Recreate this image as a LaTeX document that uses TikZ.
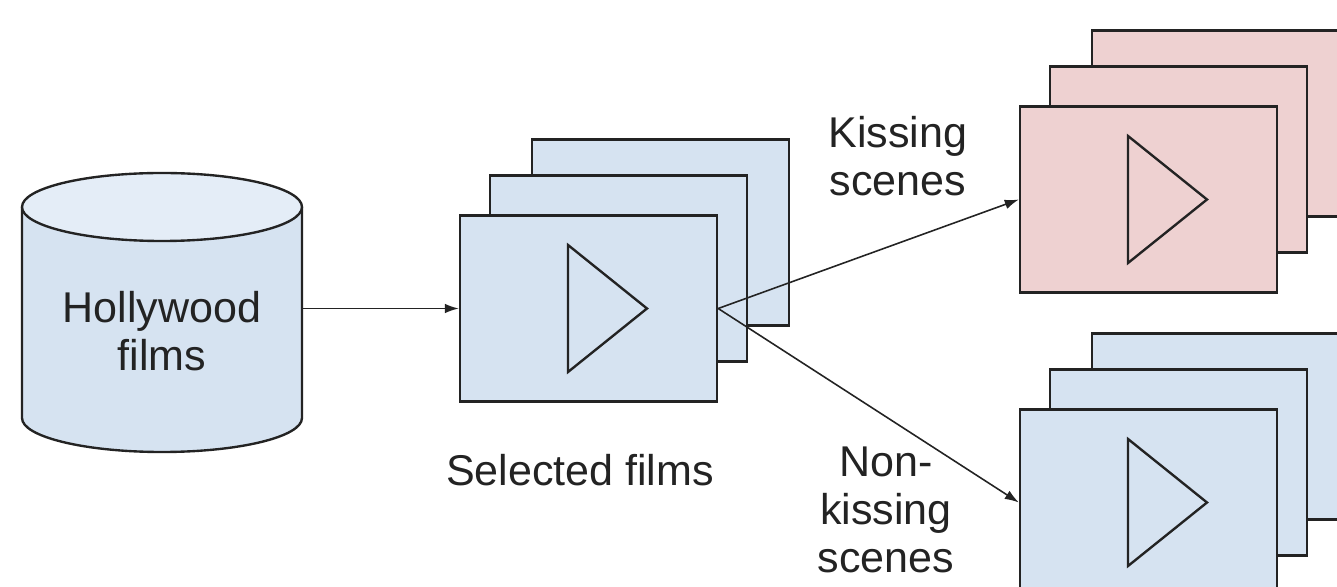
\documentclass[tikz,border=0pt]{standalone}
\usepackage{fontspec}
\setmainfont{Liberation Sans}
\usetikzlibrary{arrows.meta, positioning, calc}
\definecolor{FB}{RGB}{214,227,241}
\definecolor{FP}{RGB}{238,209,209}
\definecolor{FT}{RGB}{228,237,247}
\definecolor{DG}{RGB}{35,35,35}

\tikzset{
  sheet/.style={draw=DG, line width=1.35pt, minimum width=5.14cm,
    minimum height=3.72cm, inner sep=0pt},
  play/.style={draw=DG, line width=1.35pt, line join=miter},
  flow/.style={draw=DG, line width=0.9pt, -{Latex[length=8pt,width=5.5pt]}},
  lbl/.style={font=\fontsize{24.5}{27.5}\selectfont, text=DG,
    align=center, inner sep=0pt},
}

\begin{document}
\begin{tikzpicture}
\clip (0,0) rectangle (26.74,11.72);

% source database
\fill[FB] (0.44,7.58) -- (0.44,3.36) arc (180:360:2.8 and 0.68)
  -- (6.04,7.58) -- cycle;
\draw[DG, line width=1.35pt] (0.44,7.58) -- (0.44,3.36)
  arc (180:360:2.8 and 0.68) -- (6.04,7.58);
\draw[DG, line width=1.35pt, fill=FT] (3.24,7.58) ellipse (2.8 and 0.68);
\node[lbl, minimum width=5.6cm] (db) at (3.24,5.1) {Hollywood\\films};

% selected films
\node[sheet, fill=FB] (selback) at (13.21,7.07) {};
\node[sheet, fill=FB] (selmid)  at (12.37,6.35) {};
\node[sheet, fill=FB] (sel)     at (11.77,5.55) {};
\draw[play, shift={(sel.center)}] (-0.41,1.27) -- (-0.41,-1.27) -- (1.17,0) -- cycle;
\node[lbl] (sellbl) at (11.6,2.31) {Selected films};

% kissing scenes
\node[sheet, fill=FP] (kissback) at (24.41,9.25) {};
\node[sheet, fill=FP] (kissmid)  at (23.57,8.53) {};
\node[sheet, fill=FP] (kiss)     at (22.97,7.73) {};
\draw[play, shift={(kiss.center)}] (-0.41,1.27) -- (-0.41,-1.27) -- (1.17,0) -- cycle;
\node[lbl] (kisslbl) at (17.96,8.6) {Kissing\\scenes};

% non-kissing scenes
\node[sheet, fill=FB] (nonback) at (24.41,3.19) {};
\node[sheet, fill=FB] (nonmid)  at (23.57,2.47) {};
\node[sheet, fill=FB] (nonkiss) at (22.97,1.67) {};
\draw[play, shift={(nonkiss.center)}] (-0.41,1.27) -- (-0.41,-1.27) -- (1.17,0) -- cycle;
\node[lbl] (nonlbl) at (17.72,1.52) {Non-\\kissing\\scenes};

% arrows
\draw[flow] (db.east |- sel.west) -- (sel.west);
\draw[flow] (sel.east) -- (kiss.west);
\draw[flow] (sel.east) -- (nonkiss.west);
\end{tikzpicture}
\end{document}
